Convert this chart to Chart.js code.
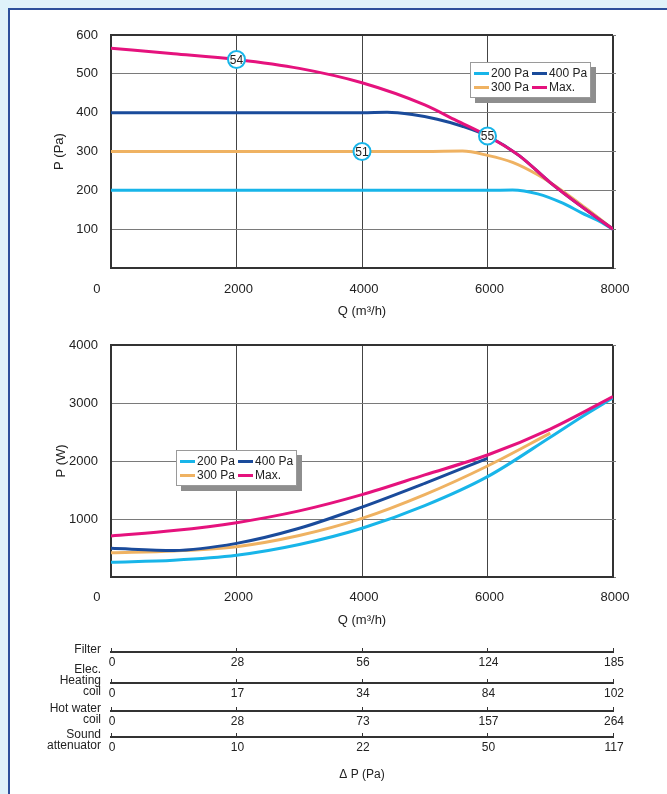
<!DOCTYPE html>
<html>
<head>
<meta charset="utf-8">
<script src="https://cdn.jsdelivr.net/npm/chart.js@4.4.0/dist/chart.umd.min.js"></script>
<style>
  html { margin: 0; padding: 0; overflow: hidden; background: #fff; }
  body { margin: 0; padding: 0; width: 100vw; height: 100vh; min-width: 667px; min-height: 794px;
         background: #dff2fa; position: relative; overflow: hidden;
         font-family: "Liberation Sans", Arial, sans-serif; }
  #panel { position: absolute; left: 8px; top: 8px; width: 800px; height: 900px; background: #fff;
           border-left: 2px solid #2c4f9b; border-top: 2px solid #2c4f9b; }
  canvas { position: absolute; left: 0; }
  .legend { position: absolute; background: #fff; border: 1px solid #9a9a9a; box-shadow: 5px 5px 0 #8e8e8e;
            font-size: 12px; color: #222; display: grid; grid-template-rows: auto auto; grid-auto-flow: column;
            column-gap: 3px; padding: 3px 3px; }
  .legend span { display: flex; align-items: center; line-height: 14px; white-space: nowrap; }
  .legend i { display: inline-block; width: 15px; height: 3px; margin-right: 2px; }
</style>
</head>
<body>
<div id="panel"></div>
<canvas id="pressure" width="667" height="330" style="top:0"></canvas>
<canvas id="power" width="667" height="306" style="top:324px"></canvas>
<canvas id="drops" width="667" height="164" style="top:630px"></canvas>
<div class="legend" id="legend1" style="left:470px; top:62px;"></div>
<div class="legend" id="legend2" style="left:176px; top:450px;"></div>
<script>
// series
var seriesNames = ['200 Pa', '300 Pa', '400 Pa', 'Max.'];
var seriesColors = ['#18b5e9', '#efb262', '#1a4b9b', '#e5127d'];

// pressure curves: Q (m3/h) -> P (Pa)
var q200 = [0, 2000, 4000, 6000, 6400, 6800, 7200, 7500, 7750, 8000];
var p200 = [200, 200, 200, 200, 201, 191, 167, 142, 123, 100];
var q300 = [0, 2000, 4000, 5000, 5600, 6000, 6400, 6800, 7200, 7600, 8000];
var p300 = [300, 300, 300, 300, 301, 290, 272, 240, 198, 150, 100];
var q400 = [0, 2000, 4000, 4400, 4800, 5200, 5600, 6000, 6500, 7000, 7500, 8000];
var p400 = [400, 400, 400, 401, 395, 383, 365, 340, 290, 220, 158, 100];
var qMax = [0, 1000, 2000, 3000, 4000, 5000, 5500, 6000, 6500, 7000, 7500, 8000];
var pMax = [566, 552, 537, 514, 477, 420, 380, 340, 290, 220, 158, 100];

// numbered points on the pressure chart
var markQ = [2000, 4000, 6000];
var markP = [537, 300, 340];
var markLabels = ['54', '51', '55'];

// power curves: Q (m3/h) -> P (W)
var qw200 = [0, 1000, 2000, 3000, 4000, 5000, 6000, 7000, 7500, 8000];
var w200 = [255, 290, 375, 560, 840, 1230, 1730, 2410, 2760, 3090];
var qw300 = [0, 1000, 2000, 3000, 4000, 5000, 6000, 7000];
var w300 = [420, 450, 523, 715, 1010, 1420, 1914, 2480];
var qw400 = [0, 1000, 2000, 3000, 4000, 5000, 6000];
var w400 = [494, 458, 580, 840, 1205, 1615, 2046];
var qwMax = [0, 1000, 2000, 3000, 4000, 5000, 6000, 7000, 8000];
var wMax = [707, 800, 937, 1140, 1420, 1760, 2103, 2550, 3110];

// pressure drop of accessories at the same Q ticks
var rowNames = [['Filter'], ['Elec.', 'Heating', 'coil'], ['Hot water', 'coil'], ['Sound', 'attenuator']];
var dpFilter = [0, 28, 56, 124, 185];
var dpElec = [0, 17, 34, 84, 102];
var dpHotWater = [0, 28, 73, 157, 264];
var dpSound = [0, 10, 22, 50, 117];

Chart.defaults.font.family = '"Liberation Sans", Arial, sans-serif';
Chart.defaults.font.size = 13;
Chart.defaults.color = '#222';

function toPoints(xs, ys) {
    return xs.map(function (x, i) { return {x: x, y: ys[i]}; });
}

function lineSet(i, xs, ys) {
    return {
        label: seriesNames[i], data: toPoints(xs, ys), borderColor: seriesColors[i],
        borderWidth: 3, pointRadius: 0, cubicInterpolationMode: 'monotone', fill: false,
        order: 3 - i
    };
}

function buildLegend(id) {
    var box = document.getElementById(id);
    seriesNames.forEach(function (name, i) {
        var s = document.createElement('span');
        s.innerHTML = '<i style="background:' + seriesColors[i] + '"></i>' + name;
        box.appendChild(s);
    });
}
buildLegend('legend1');
buildLegend('legend2');

function frameColor(max, normal) {
    return function (c) { return c.tick && c.tick.value === max ? '#333' : normal; };
}
function frameWidth(max) {
    return function (c) { return c.tick && c.tick.value === max ? 2 : 1; };
}

function xAxis(tickPad, titlePad, height) {
    return {
        type: 'linear', min: 0, max: 8000,
        ticks: {
            stepSize: 2000, padding: tickPad, labelOffset: 2,
            // the origin label sits left of the corner
            callback: function (v) { return v === 0 ? '0\u2003\u2003\u2002' : v; }
        },
        grid: { color: frameColor(8000, '#444'), lineWidth: frameWidth(8000), drawTicks: false },
        border: { color: '#333', width: 2 },
        title: { display: true, text: 'Q (m\u00b3/h)', padding: {top: 0, bottom: titlePad} },
        afterFit: function (s) { s.height = height; }
    };
}

function yAxis(max, step, title, titlePad) {
    return {
        type: 'linear', min: 0, max: max,
        ticks: { stepSize: step, padding: 13, callback: function (v) { return v === 0 ? '' : v; } },
        grid: { color: frameColor(max, '#7a7a7a'), lineWidth: frameWidth(max), drawTicks: false },
        border: { color: '#333', width: 2 },
        title: { display: true, text: title, padding: {top: titlePad, bottom: 0} },
        afterFit: function (s) { s.width = 111; }
    };
}

// short stubs where the horizontal grid lines run past the right frame
function yStubs(max, step) {
    return {
        type: 'linear', position: 'right', min: 0, max: max,
        ticks: { stepSize: step, display: false },
        grid: { drawOnChartArea: false, drawTicks: true, tickLength: 3, color: '#7a7a7a' },
        border: { display: false },
        afterFit: function (s) { s.width = 3; }
    };
}

var markerText = {
    id: 'markerText',
    afterDatasetsDraw: function (chart) {
        var meta = chart.getDatasetMeta(4);
        var ctx = chart.ctx;
        ctx.save();
        ctx.font = '12px "Liberation Sans", Arial, sans-serif';
        ctx.fillStyle = '#222';
        ctx.textAlign = 'center';
        ctx.textBaseline = 'middle';
        meta.data.forEach(function (pt, i) { ctx.fillText(markLabels[i], pt.x, pt.y + 1); });
        ctx.restore();
    }
};

new Chart(document.getElementById('pressure'), {
    type: 'line',
    data: {
        datasets: [
            lineSet(0, q200, p200), lineSet(1, q300, p300), lineSet(2, q400, p400), lineSet(3, qMax, pMax),
            {
                label: 'points', data: toPoints(markQ, markP), showLine: false, order: -1,
                pointRadius: 8.5, pointBackgroundColor: '#fff', pointBorderColor: '#18b5e9', pointBorderWidth: 2
            }
        ]
    },
    options: {
        responsive: false, animation: false,
        layout: { padding: {left: 0, right: 51, top: 35, bottom: 0} },
        plugins: { legend: {display: false}, tooltip: {enabled: false} },
        scales: { x: xAxis(14, 11, 62), y: yAxis(600, 100, 'P (Pa)', 52), y2: yStubs(600, 100) }
    },
    plugins: [markerText]
});

new Chart(document.getElementById('power'), {
    type: 'line',
    data: {
        datasets: [lineSet(0, qw200, w200), lineSet(1, qw300, w300), lineSet(2, qw400, w400), lineSet(3, qwMax, wMax)]
    },
    options: {
        responsive: false, animation: false,
        layout: { padding: {left: 0, right: 51, top: 21, bottom: 0} },
        plugins: { legend: {display: false}, tooltip: {enabled: false} },
        scales: { x: xAxis(13, 2, 53), y: yAxis(4000, 1000, 'P (W)', 54), y2: yStubs(4000, 1000) }
    }
});

// pressure drop rulers, one category axis per accessory
var dropRows = [dpFilter, dpElec, dpHotWater, dpSound];
var rowPos = [12, 43, 71, 97];
var dropScales = { y: { display: false, min: 0, max: 110, reverse: true } };
dropRows.forEach(function (vals, i) {
    dropScales['x' + i] = {
        type: 'category', axis: 'x', labels: vals.map(String), offset: false, position: {y: rowPos[i]},
        grid: { display: true, drawOnChartArea: false, drawTicks: true, tickLength: -5, color: '#333', lineWidth: 1 },
        border: { display: true, color: '#333', width: 2 },
        ticks: { autoSkip: false, maxRotation: 0, padding: 8, labelOffset: 1, font: {size: 12} }
    };
});

var rowLabels = {
    id: 'rowLabels',
    afterDraw: function (chart) {
        var ctx = chart.ctx;
        var area = chart.chartArea;
        ctx.save();
        ctx.font = '12px "Liberation Sans", Arial, sans-serif';
        ctx.fillStyle = '#222';
        ctx.textAlign = 'right';
        ctx.textBaseline = 'middle';
        rowNames.forEach(function (lines, i) {
            var y = chart.scales.y.getPixelForValue(rowPos[i]);
            var last = lines.length === 1 ? y - 2 : y + 9;
            lines.forEach(function (t, j) {
                ctx.fillText(t, 101, last - (lines.length - 1 - j) * 11);
            });
        });
        ctx.textAlign = 'center';
        ctx.fillText('\u0394 P (Pa)', (area.left + area.right) / 2, 145);
        ctx.restore();
    }
};

new Chart(document.getElementById('drops'), {
    type: 'line',
    data: { datasets: [] },
    options: {
        responsive: false, animation: false,
        layout: { padding: {left: 111, right: 54, top: 10, bottom: 44} },
        plugins: { legend: {display: false}, tooltip: {enabled: false} },
        scales: dropScales
    },
    plugins: [rowLabels]
});
</script>
</body>
</html>
